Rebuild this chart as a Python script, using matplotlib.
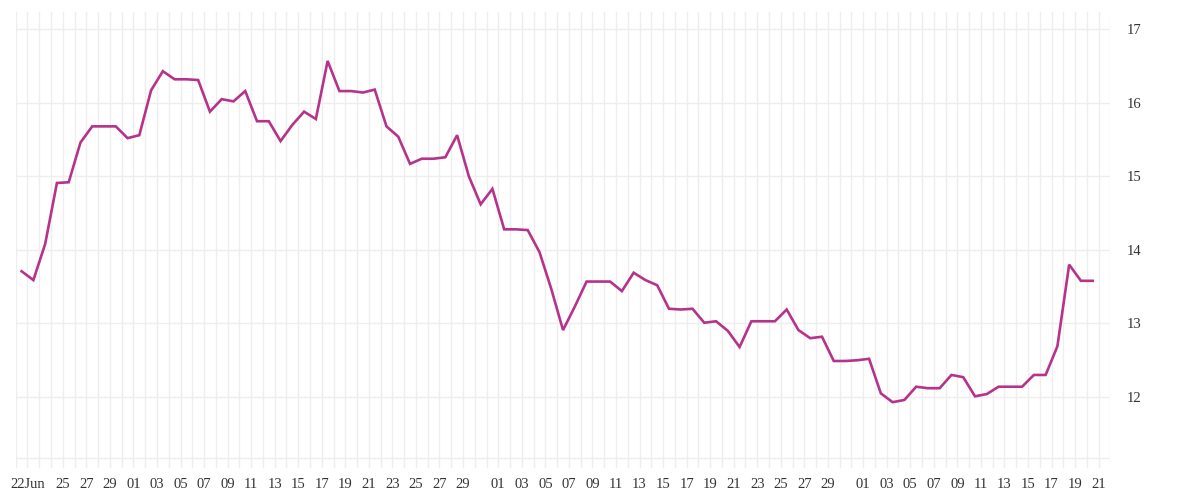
import numpy as np
import pandas as pd
import matplotlib
matplotlib.use("Agg")
import matplotlib.pyplot as plt
import matplotlib.dates as mdates

# daily values, 21 Jun .. 20 Sep
start_date = "2023-06-21"
values = [
    13.71, 13.59, 14.08, 14.91, 14.92, 15.46, 15.68, 15.68, 15.68, 15.52,
    15.56, 16.17, 16.43, 16.32, 16.32, 16.31, 15.88, 16.05, 16.02, 16.16,
    15.75, 15.75, 15.48, 15.70, 15.88, 15.78, 16.57, 16.16, 16.16, 16.14,
    16.18, 15.68, 15.54, 15.17, 15.24, 15.24, 15.26, 15.56, 15.00, 14.62,
    14.83, 14.28, 14.28, 14.27, 13.97, 13.47, 12.91, 13.23, 13.57, 13.57,
    13.57, 13.44, 13.69, 13.59, 13.52, 13.20, 13.19, 13.20, 13.01, 13.03,
    12.90, 12.68, 13.03, 13.03, 13.03, 13.19, 12.91, 12.80, 12.82, 12.49,
    12.49, 12.50, 12.52, 12.05, 11.93, 11.96, 12.14, 12.12, 12.12, 12.30,
    12.27, 12.01, 12.04, 12.14, 12.14, 12.14, 12.30, 12.30, 12.69, 13.80,
    13.58, 13.58,
]

tick_dates = (["2023-06-22", "2023-06-25", "2023-06-27", "2023-06-29"]
              + [f"2023-07-{d:02d}" for d in range(1, 30, 2)]
              + [f"2023-08-{d:02d}" for d in range(1, 30, 2)]
              + [f"2023-09-{d:02d}" for d in range(1, 22, 2)])
tick_labels = (["22Jun", "25", "27", "29"]
               + [f"{d:02d}" for d in range(1, 30, 2)]
               + [f"{d:02d}" for d in range(1, 30, 2)]
               + [f"{d:02d}" for d in range(1, 22, 2)])
y_ticks = [12, 13, 14, 15, 16, 17]

line_color = "#b5338a"
grid_color = "#eeeeee"
text_color = "#333333"

dates = pd.date_range(start_date, periods=len(values), freq="D") + pd.Timedelta(hours=12)

fig = plt.figure(figsize=(12, 5), dpi=100)
ax = fig.add_axes([0.0131, 0.064, 0.9122, 0.912])

ax.plot(dates, values, color=line_color, lw=1.9, solid_joinstyle="miter", zorder=3)

ax.set_xlim(pd.Timestamp("2023-06-21"), pd.Timestamp("2023-09-22"))
ax.set_ylim(11.035, 17.235)

ax.xaxis.set_minor_locator(mdates.DayLocator())
ax.set_xticks(pd.to_datetime(tick_dates))
ax.set_xticklabels(tick_labels)
ax.set_yticks(y_ticks)

ax.grid(True, which="both", axis="x", color=grid_color, lw=1, zorder=0)
ax.grid(True, which="major", axis="y", color=grid_color, lw=1, zorder=0)
ax.axhline(11.167, color=grid_color, lw=1, zorder=0)

for s in ax.spines.values():
    s.set_visible(False)

ax.yaxis.tick_right()
ax.tick_params(axis="both", which="both", length=0)
ax.tick_params(axis="y", pad=12, labelsize=10.5, labelcolor=text_color)
ax.tick_params(axis="x", pad=7, labelsize=10.5, labelcolor=text_color)
for lab in ax.get_xticklabels() + ax.get_yticklabels():
    lab.set_family("Liberation Serif")

fig.savefig("out.png", dpi=100, facecolor="white")
